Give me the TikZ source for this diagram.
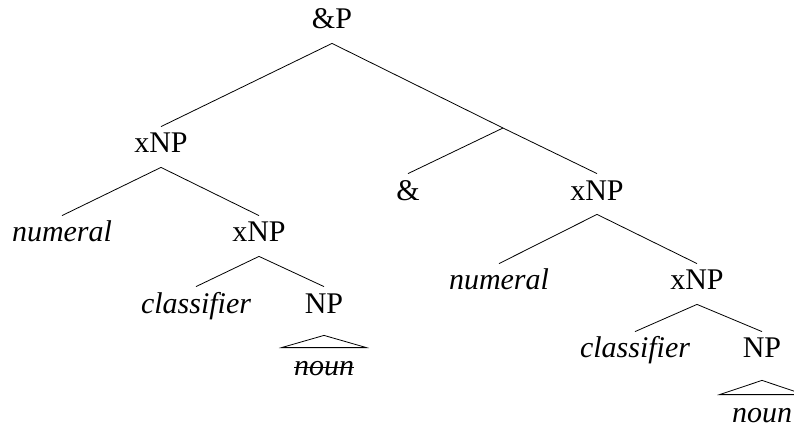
\documentclass[tikz,border=0pt]{standalone}
\usepackage{fontspec}
\setmainfont{Liberation Serif}
\newcommand{\strikeword}[1]{\setbox0\hbox{#1}\rlap{\rule[0.25em]{\wd0}{0.6pt}}\box0}
\tikzset{
        synnode/.style = {anchor=base, inner sep=0pt, text centered,
            font=\fontsize{22.5}{26}\selectfont, text height=19.5pt, text depth=10.5pt},
        syn_n/.style = {synnode},
        syn_w/.style = {synnode, font=\fontsize{22.5}{26}\selectfont\itshape},
        syn_r/.style = {syn_w, text height=20.25pt, minimum width=63pt}
    }
\begin{document}
\begin{tikzpicture}[x=0.75pt, y=-0.75pt, line width=0.6pt]
            \useasboundingbox (0,0) rectangle (794,428);
            \node [syn_n] (andP) at (332,29) {\&P}; % ROOT
            \node [syn_n] (xnpA) at (161,153) {xNP};
            \coordinate (bar) at (503,128);
            \node [syn_n] (conj) at (408,200) {\&};
            \node [syn_n] (xnpB) at (597,200) {xNP};
            % left conjunct
            \node [syn_w] (numA) at (62,242) {numeral};
            \node [syn_n] (xnpC) at (259,242) {xNP};
            \node [syn_w] (clfA) at (196,313) {classifier};
            \node [syn_n] (npA) at (324,313) {NP};
            \node [syn_r] (nounA) at (324,375) {\strikeword{noun}};
            % right conjunct
            \node [syn_w] (numB) at (499,290) {numeral};
            \node [syn_n] (xnpD) at (697,290) {xNP};
            \node [syn_w] (clfB) at (635,358) {classifier};
            \node [syn_n] (npB) at (762,358) {NP};
            \node [syn_r] (nounB) at (762,422) {noun};
            % branches
            \draw (andP.south) -- (xnpA.north);
            \draw (andP.south) -- (bar) -- (xnpB.north);
            \draw (bar) -- (conj.north);
            \draw (xnpA.south) -- (numA.north);
            \draw (xnpA.south) -- (xnpC.north);
            \draw (xnpC.south) -- (clfA.north);
            \draw (xnpC.south) -- (npA.north);
            \draw (xnpB.south) -- (numB.north);
            \draw (xnpB.south) -- (xnpD.north);
            \draw (xnpD.south) -- (clfB.north);
            \draw (xnpD.south) -- (npB.north);
            % roofs
            \draw ([yshift=-6pt]npA.south) -- (nounA.north west) -- (nounA.north east) -- cycle;
            \draw ([yshift=-6pt]npB.south) -- (nounB.north west) -- (nounB.north east) -- cycle;
        \end{tikzpicture}
\end{document}
